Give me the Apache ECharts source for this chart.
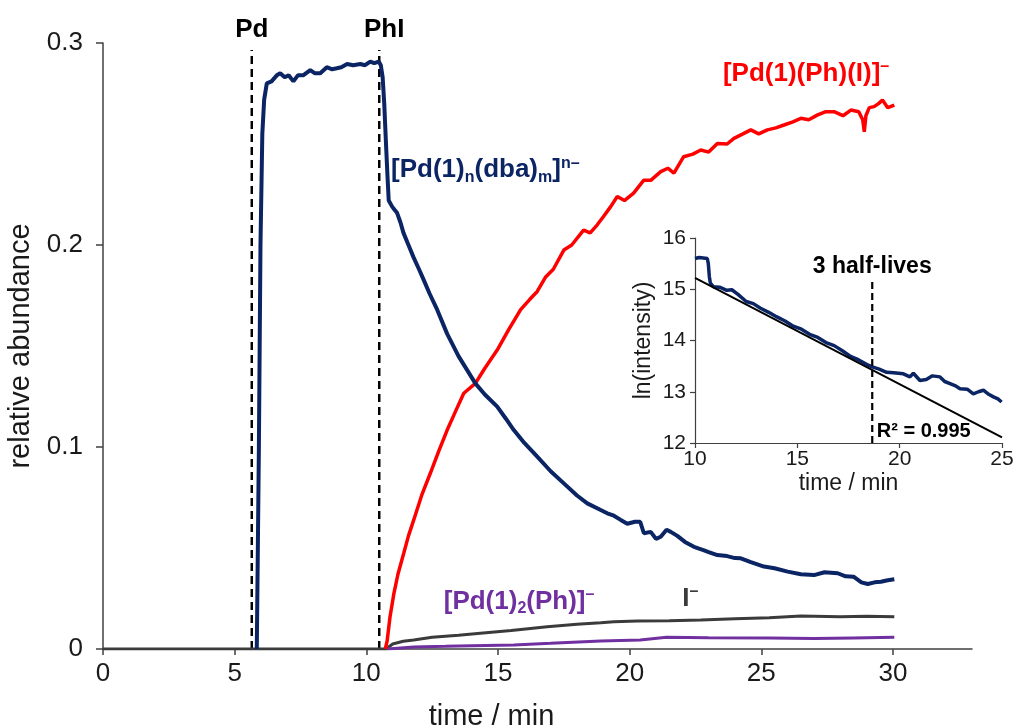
<!DOCTYPE html>
<html>
<head>
<meta charset="utf-8">
<script src="https://cdn.jsdelivr.net/npm/echarts@6/dist/echarts.min.js"></script>
<style>
html,body{margin:0;padding:0;background:#fff;}
#chart{width:1014px;height:728px;}
</style>
</head>
<body>
<div id="chart"></div>
<script>
// ---------- main chart data ----------
const xTickValues = [0, 5, 10, 15, 20, 25, 30];
const yTickValues = [0, 0.1, 0.2, 0.3];

const blueT = [5.84, 5.92, 5.98, 6.05, 6.12, 6.22, 6.4, 6.6, 6.73, 6.9, 7.05, 7.23, 7.4, 7.6, 7.87, 8.05, 8.25, 8.5, 8.7, 8.88, 9.05, 9.27, 9.5, 9.77, 9.95, 10.15, 10.3, 10.47, 10.55, 10.62, 10.68, 10.74, 10.8, 10.85, 10.98, 11.1, 11.17, 11.3, 11.41, 11.6, 11.79, 12.0, 12.17, 12.4, 12.69, 13.07, 13.5, 14.14, 14.5, 14.97, 15.3, 15.6, 16.0, 16.49, 17.0, 17.5, 18.0, 18.39, 18.9, 19.15, 19.4, 19.66, 19.91, 20.2, 20.4, 20.54, 20.8, 21.0, 21.18, 21.4, 21.56, 21.81, 22.1, 22.44, 22.8, 23.0, 23.33, 23.7, 24.0, 24.22, 24.6, 25.1, 25.5, 26.0, 26.5, 27.0, 27.4, 27.9, 28.2, 28.5, 28.8, 29.04, 29.3, 29.54, 29.8, 30.05];
const blueV = [0, 0.10, 0.20, 0.255, 0.272, 0.280, 0.281, 0.284, 0.285, 0.283, 0.284, 0.281, 0.284, 0.284, 0.2866, 0.285, 0.285, 0.288, 0.287, 0.2875, 0.288, 0.2896, 0.289, 0.2896, 0.289, 0.2908, 0.290, 0.2908, 0.289, 0.283, 0.270, 0.252, 0.235, 0.222, 0.219, 0.217, 0.2158, 0.211, 0.206, 0.200, 0.194, 0.188, 0.183, 0.176, 0.168, 0.156, 0.145, 0.1315, 0.126, 0.120, 0.114, 0.1084, 0.102, 0.0952, 0.088, 0.082, 0.076, 0.0721, 0.0688, 0.0672, 0.066, 0.0639, 0.0620, 0.0630, 0.063, 0.0573, 0.058, 0.0545, 0.0556, 0.059, 0.058, 0.056, 0.053, 0.0506, 0.049, 0.048, 0.0465, 0.046, 0.045, 0.0449, 0.043, 0.0408, 0.040, 0.0383, 0.037, 0.0366, 0.038, 0.0375, 0.036, 0.0358, 0.033, 0.0322, 0.033, 0.0333, 0.034, 0.0345];

const redT = [10.72, 10.79, 10.9, 11.04, 11.2, 11.42, 11.6, 11.8, 12.1, 12.43, 12.75, 13.07, 13.4, 13.7, 14.14, 14.5, 14.97, 15.4, 15.86, 16.2, 16.49, 16.8, 17.1, 17.5, 17.8, 18.25, 18.5, 18.77, 19.0, 19.28, 19.53, 19.8, 20.15, 20.53, 20.8, 21.18, 21.45, 21.68, 22.05, 22.4, 22.7, 23.0, 23.33, 23.7, 23.96, 24.3, 24.6, 24.9, 25.23, 25.55, 25.86, 26.2, 26.5, 26.8, 27.14, 27.45, 27.76, 28.1, 28.4, 28.7, 28.85, 28.91, 28.97, 29.1, 29.28, 29.45, 29.6, 29.8, 30.05];
const redV = [0, 0.004, 0.016, 0.027, 0.037, 0.0474, 0.056, 0.0639, 0.076, 0.087, 0.098, 0.1084, 0.118, 0.1266, 0.1315, 0.139, 0.148, 0.158, 0.168, 0.173, 0.177, 0.184, 0.188, 0.1975, 0.200, 0.2074, 0.206, 0.210, 0.214, 0.219, 0.224, 0.222, 0.2257, 0.232, 0.232, 0.2363, 0.238, 0.2356, 0.2437, 0.245, 0.247, 0.246, 0.2503, 0.250, 0.2528, 0.255, 0.257, 0.255, 0.257, 0.258, 0.2594, 0.261, 0.2627, 0.262, 0.2644, 0.266, 0.266, 0.264, 0.2668, 0.266, 0.262, 0.256, 0.264, 0.268, 0.2685, 0.270, 0.2718, 0.268, 0.2693];

const iodideT = [0, 10.75, 11.0, 11.4, 11.8, 12.5, 13.5, 14.33, 15.5, 16.87, 18.0, 18.9, 19.4, 20.3, 21.5, 22.7, 24.0, 25.3, 26.5, 28.0, 29.0, 30.05];
const iodideV = [0, 0, 0.0025, 0.0038, 0.0045, 0.0058, 0.0068, 0.0078, 0.0092, 0.011, 0.0122, 0.013, 0.0135, 0.0138, 0.014, 0.0144, 0.015, 0.0155, 0.0163, 0.016, 0.0162, 0.016];

const dimerT = [10.8, 11.8, 13.0, 14.0, 15.6, 17.0, 18.9, 20.4, 21.4, 23.0, 25.3, 27.0, 28.5, 30.05];
const dimerV = [0, 0.001, 0.0013, 0.0016, 0.002, 0.0028, 0.004, 0.0045, 0.0058, 0.0056, 0.0055, 0.0052, 0.0055, 0.0058];

const eventNames = ['Pd', 'PhI'];
const eventTimes = [5.65, 10.49];
const eventTop = 0.2965;

// ---------- inset data ----------
const insetXTicks = [10, 15, 20, 25];
const insetT = [10.0, 10.2, 10.4, 10.6, 10.65, 10.7, 10.75, 10.9, 11.2, 11.55, 11.8, 12.1, 12.5, 12.85, 13.2, 13.6, 14.0, 14.4, 14.8, 15.2, 15.6, 16.0, 16.4, 16.8, 17.2, 17.6, 18.0, 18.4, 18.7, 19.0, 19.36, 19.7, 20.18, 20.5, 20.67, 20.99, 21.3, 21.6, 21.97, 22.2, 22.46, 22.7, 22.95, 23.3, 23.6, 23.85, 24.09, 24.35, 24.58, 24.8, 24.98];
const insetLn = [15.60, 15.62, 15.61, 15.60, 15.50, 15.25, 15.12, 15.05, 15.04, 14.98, 14.99, 14.90, 14.76, 14.72, 14.63, 14.55, 14.46, 14.38, 14.28, 14.22, 14.12, 14.06, 13.96, 13.90, 13.80, 13.69, 13.62, 13.53, 13.48, 13.44, 13.38, 13.37, 13.35, 13.29, 13.36, 13.22, 13.24, 13.31, 13.29, 13.20, 13.16, 13.12, 13.06, 13.05, 12.96, 13.00, 13.03, 12.95, 12.90, 12.86, 12.80];
const fitT = [10, 25];
const fitLn = [15.22, 12.11];
const halfLifeTime = 18.66;
const halfLifeTop = 15.18;
const halfLifeText = '3 half-lives';
const r2Text = 'R² = 0.995';

// ---------- build ----------
const zip = (a, b) => a.map((v, i) => [v, b[i]]);
const FONT = 'Liberation Sans, Arial, Helvetica, sans-serif';
const NAVY = '#0b2463', RED = '#ff0000', PURPLE = '#7030a0', DARK = '#3b3b3b';

const chart = echarts.init(document.getElementById('chart'), null, {renderer: 'canvas'});

function textPoint(x, y, rich, formatter, extra) {
  return {
    value: [x, y],
    label: Object.assign({show: true, position: 'inside', formatter: formatter, rich: rich, opacity: 1}, extra || {})
  };
}

const baseRich = (color) => ({
  b: {fontFamily: FONT, fontWeight: 'bold', fontSize: 26, color: color, lineHeight: 30, verticalAlign: 'middle'},
  sub: {fontFamily: FONT, fontWeight: 'bold', fontSize: 16, color: color, lineHeight: 14, verticalAlign: 'bottom'},
  sup: {fontFamily: FONT, fontWeight: 'bold', fontSize: 16, color: color, lineHeight: 14, verticalAlign: 'top'}
});

const option = {
  animation: false,
  backgroundColor: '#fff',
  textStyle: {fontFamily: FONT},
  grid: [
    {left: 103, right: 42, top: 43, bottom: 79, outerBoundsMode: 'none'},
    {left: 695, top: 238, width: 307, height: 205, outerBoundsMode: 'none'}
  ],
  xAxis: [
    {
      gridIndex: 0, type: 'value', min: 0, max: 33, interval: 5,
      name: 'time / min', nameLocation: 'middle', nameGap: 53,
      nameTextStyle: {fontFamily: FONT, fontSize: 29, color: '#1a1a1a', padding: [0, 92, 0, 0]},
      axisLine: {show: true, onZero: false, lineStyle: {color: '#404040', width: 1.5}},
      axisTick: {show: true, inside: false, length: 6, customValues: xTickValues, lineStyle: {color: '#404040', width: 1.5}},
      axisLabel: {show: true, margin: 12, fontFamily: FONT, fontSize: 26, color: '#1a1a1a', customValues: xTickValues},
      splitLine: {show: false}
    },
    {
      gridIndex: 1, type: 'value', min: 10, max: 25, interval: 5,
      name: 'time / min', nameLocation: 'middle', nameGap: 29,
      nameTextStyle: {fontFamily: FONT, fontSize: 23, color: '#1a1a1a'},
      axisLine: {show: true, onZero: false, lineStyle: {color: '#404040', width: 1.2}},
      axisTick: {show: true, length: 5, lineStyle: {color: '#404040', width: 1.2}},
      axisLabel: {margin: 6, fontFamily: FONT, fontSize: 21, color: '#1a1a1a'},
      splitLine: {show: false}
    }
  ],
  yAxis: [
    {
      gridIndex: 0, type: 'value', min: 0, max: 0.3, interval: 0.1,
      name: 'relative abundance', nameLocation: 'middle', nameGap: 60,
      nameTextStyle: {fontFamily: FONT, fontSize: 29, color: '#1a1a1a'},
      axisLine: {show: true, onZero: false, lineStyle: {color: '#404040', width: 1.5}},
      axisTick: {show: true, length: 7, customValues: yTickValues, lineStyle: {color: '#404040', width: 1.5}},
      axisLabel: {margin: 20, fontFamily: FONT, fontSize: 26, color: '#1a1a1a'},
      splitLine: {show: false}
    },
    {
      gridIndex: 1, type: 'value', min: 12, max: 16, interval: 1,
      name: 'ln(intensity)', nameLocation: 'middle', nameGap: 40,
      nameTextStyle: {fontFamily: FONT, fontSize: 23, color: '#1a1a1a'},
      axisLine: {show: true, onZero: false, lineStyle: {color: '#404040', width: 1.2}},
      axisTick: {show: true, length: 5, lineStyle: {color: '#404040', width: 1.2}},
      axisLabel: {margin: 9, fontFamily: FONT, fontSize: 21, color: '#1a1a1a'},
      splitLine: {show: false}
    }
  ],
  series: [
    ...eventTimes.map((t) => ({
      type: 'line', xAxisIndex: 0, yAxisIndex: 0, showSymbol: false, silent: true, z: 1,
      data: [[t, 0], [t, eventTop]],
      lineStyle: {color: '#000', width: 2.5, type: [8, 5]}
    })),
    {
      type: 'line', name: 'I-', xAxisIndex: 0, yAxisIndex: 0, showSymbol: false, z: 2,
      data: zip(iodideT, iodideV), lineStyle: {color: DARK, width: 3}
    },
    {
      type: 'line', name: 'dimer', xAxisIndex: 0, yAxisIndex: 0, showSymbol: false, z: 2,
      data: zip(dimerT, dimerV), lineStyle: {color: PURPLE, width: 3}
    },
    {
      type: 'line', name: 'red', xAxisIndex: 0, yAxisIndex: 0, showSymbol: false, z: 3,
      data: zip(redT, redV), lineStyle: {color: RED, width: 3.5}
    },
    {
      type: 'line', name: 'blue', xAxisIndex: 0, yAxisIndex: 0, showSymbol: false, z: 4,
      data: zip(blueT, blueV), lineStyle: {color: NAVY, width: 4}
    },
    {
      type: 'line', xAxisIndex: 1, yAxisIndex: 1, showSymbol: false, z: 5,
      data: zip(insetT, insetLn), lineStyle: {color: NAVY, width: 3.5}
    },
    {
      type: 'line', xAxisIndex: 1, yAxisIndex: 1, showSymbol: false, z: 6,
      data: zip(fitT, fitLn), lineStyle: {color: '#000', width: 2}
    },
    {
      type: 'line', xAxisIndex: 1, yAxisIndex: 1, showSymbol: false, z: 6,
      data: [[halfLifeTime, 12], [halfLifeTime, halfLifeTop]], lineStyle: {color: '#000', width: 2.2, type: [7, 4]}
    },
    {
      type: 'scatter', xAxisIndex: 0, yAxisIndex: 0, symbolSize: 1, silent: true, z: 10,
      itemStyle: {color: 'rgba(0,0,0,0)', opacity: 1},
      data: [
        textPoint(eventTimes[0], eventTop, baseRich('#000'), '{b|' + eventNames[0] + '}', {position: 'top', distance: 5}),
        textPoint(eventTimes[1], eventTop, baseRich('#000'), '{b|' + eventNames[1] + '}', {position: 'top', distance: 5, offset: [5, 0]}),
        textPoint(10.92, 0.237, baseRich(NAVY), '{b|[Pd(1)}{sub|n}{b|(dba)}{sub|m}{b|]}{sup|n–}', {position: 'right', distance: 0}),
        textPoint(26.7, 0.2847, baseRich(RED), '{b|[Pd(1)(Ph)(I)]}{sup|–}'),
        textPoint(15.8, 0.0233, baseRich(PURPLE), '{b|[Pd(1)}{sub|2}{b|(Ph)]}{sup|–}'),
        textPoint(22.3, 0.0248, baseRich(DARK), '{b|I}{sup|–}')
      ]
    },
    {
      type: 'scatter', xAxisIndex: 1, yAxisIndex: 1, symbolSize: 1, silent: true, z: 10,
      itemStyle: {color: 'rgba(0,0,0,0)', opacity: 1},
      data: [
        textPoint(halfLifeTime, halfLifeTop, {t: {fontFamily: FONT, fontWeight: 'bold', fontSize: 23, color: '#000'}}, '{t|' + halfLifeText + '}', {position: 'top', distance: 1}),
        textPoint(halfLifeTime, 12.22, {t: {fontFamily: FONT, fontWeight: 'bold', fontSize: 20, color: '#000'}}, '{t|' + r2Text + '}', {position: 'right', distance: 4})
      ]
    }
  ]
};
chart.setOption(option);
</script>
</body>
</html>
